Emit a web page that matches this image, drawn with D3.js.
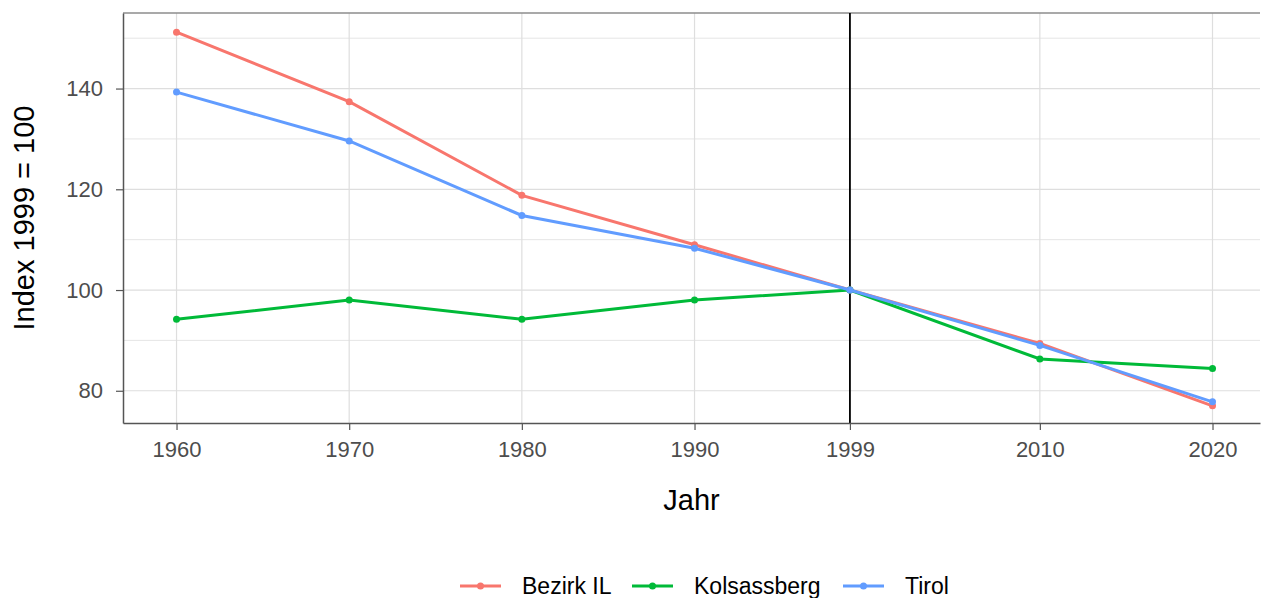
<!DOCTYPE html>
<html lang="de">
<head>
  <meta charset="utf-8">
  <title>Index 1999 = 100</title>
  <script src="https://d3js.org/d3.v7.min.js"></script>
  <style>
    body { margin: 0; background: #fff; font-family: "Liberation Sans", Arial, sans-serif; }
  </style>
</head>
<body>
<div id="vis"></div>
<script>
  // Daten
  var jahre = [1960, 1970, 1980, 1990, 1999, 2010, 2020];
  var bezirkIL = [151.2, 137.4, 118.8, 109.0, 100, 89.4, 77.0];
  var kolsassberg = [94.2, 98.0, 94.2, 98.0, 100, 86.3, 84.4];
  var tirol = [139.3, 129.6, 114.8, 108.3, 100, 89.0, 77.8];
  var yTicks = [80, 100, 120, 140];
  var reihen = [
    { name: "Bezirk IL", werte: bezirkIL, farbe: "#F8766D" },
    { name: "Kolsassberg", werte: kolsassberg, farbe: "#00BA38" },
    { name: "Tirol", werte: tirol, farbe: "#619CFF" }
  ];

  var breite = 1261, hoehe = 598;
  var margin = { top: 13, right: 1, bottom: 175, left: 123 };
  var w = breite - margin.left - margin.right,
      h = hoehe - margin.top - margin.bottom;

  var svg = d3.select('#vis').append('svg')
    .attr('width', breite)
    .attr('height', hoehe);
  var g = svg.append('g')
    .attr('transform', 'translate(' + margin.left + ',' + margin.top + ')');

  var x = d3.scaleLinear().domain([1956.9, 2022.75]).range([0, w]);
  var y = d3.scaleLinear().domain([73.6, 155.0]).range([h, 0]);

  // Gitter
  var minor = d3.range(80, 160, 10);
  g.selectAll('.grid-y').data(minor).enter().append('line')
    .attr('x1', 0).attr('x2', w)
    .attr('y1', d => y(d)).attr('y2', d => y(d))
    .attr('stroke', '#dedede').attr('stroke-width', d => d % 20 === 0 ? 1.2 : 0.8);
  g.selectAll('.grid-x').data(jahre).enter().append('line')
    .attr('y1', 0).attr('y2', h)
    .attr('x1', d => x(d)).attr('x2', d => x(d))
    .attr('stroke', '#dedede').attr('stroke-width', 1.2);

  // Rahmen oben
  g.append('line').attr('x1', 0).attr('x2', w).attr('y1', 0).attr('y2', 0)
    .attr('stroke', '#8c8c8c').attr('stroke-width', 1.5);

  // Vertikale Linie 1999
  g.append('line').attr('x1', x(1999)).attr('x2', x(1999)).attr('y1', 0).attr('y2', h)
    .attr('stroke', '#000').attr('stroke-width', 1.8);

  // Linien
  var linie = d3.line().x((d, i) => x(jahre[i])).y(d => y(d));
  reihen.forEach(function (r) {
    g.append('path').datum(r.werte)
      .attr('d', linie)
      .attr('fill', 'none')
      .attr('stroke', r.farbe)
      .attr('stroke-width', 3);
    g.selectAll(null).data(r.werte).enter().append('circle')
      .attr('cx', (d, i) => x(jahre[i]))
      .attr('cy', d => y(d))
      .attr('r', 3.5)
      .attr('fill', r.farbe);
  });

  // Achsen
  var xAchse = g.append('g')
    .attr('transform', 'translate(0,' + h + ')')
    .call(d3.axisBottom(x).tickValues(jahre).tickFormat(d3.format('d'))
      .tickSizeInner(7).tickSizeOuter(0).tickPadding(11));
  var yAchse = g.append('g')
    .call(d3.axisLeft(y).tickValues(yTicks)
      .tickSizeInner(7).tickSizeOuter(0).tickPadding(13));
  [xAchse, yAchse].forEach(function (a) {
    a.select('.domain').attr('stroke', '#555').attr('stroke-width', 1.5);
    a.selectAll('.tick line').attr('stroke', '#555').attr('stroke-width', 1.2);
    a.selectAll('.tick text')
      .attr('fill', '#4d4d4d')
      .style('font-size', '22px')
      .style('font-family', '"Liberation Sans", Arial, sans-serif');
  });

  // Achsentitel
  svg.append('text')
    .attr('x', margin.left + w / 2).attr('y', 510)
    .attr('text-anchor', 'middle')
    .attr('font-size', 29)
    .text('Jahr');
  svg.append('text')
    .attr('transform', 'translate(34,' + (margin.top + h / 2) + ') rotate(-90)')
    .attr('text-anchor', 'middle')
    .attr('font-size', 29)
    .text('Index 1999 = 100');

  // Legende
  var legX = [460, 632, 843];
  var leg = svg.append('g');
  reihen.forEach(function (r, i) {
    var lg = leg.append('g').attr('transform', 'translate(' + legX[i] + ',586)');
    lg.append('line').attr('x1', 0).attr('x2', 41).attr('y1', 0).attr('y2', 0)
      .attr('stroke', r.farbe).attr('stroke-width', 3);
    lg.append('circle').attr('cx', 20.5).attr('cy', 0).attr('r', 3.5).attr('fill', r.farbe);
    lg.append('text').attr('x', 62).attr('y', 8).attr('font-size', 23).text(r.name);
  });
</script>
</body>
</html>
